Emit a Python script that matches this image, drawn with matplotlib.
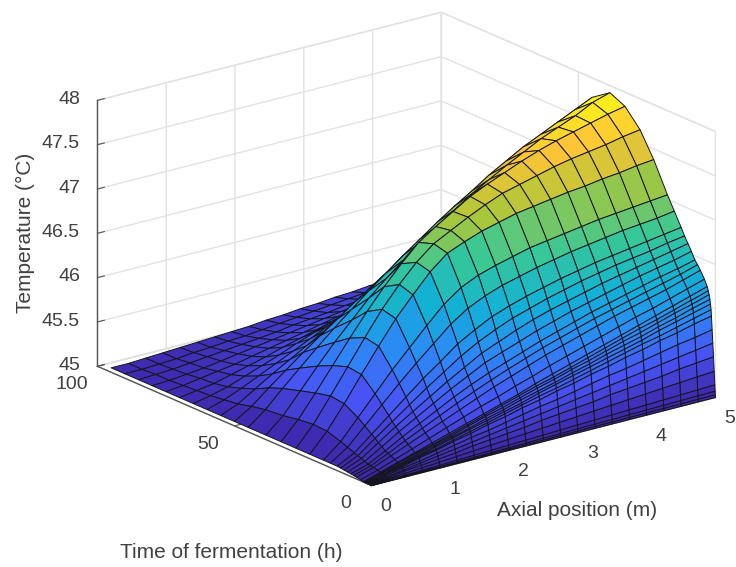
import numpy as np
import matplotlib
matplotlib.use("Agg")
import matplotlib.pyplot as plt
from matplotlib.colors import LinearSegmentedColormap

plt.rcParams["font.family"] = ["Liberation Sans", "DejaVu Sans"]
plt.rcParams["grid.color"] = "#e2e2e2"
plt.rcParams["grid.linewidth"] = 1.0

# ==============================
# Data
# ==============================
axial_position = [0, .25, .5, .75, 1, 1.25, 1.5, 1.75, 2, 2.25, 2.5, 2.75, 3, 3.25, 3.5, 3.75, 4, 4.25, 4.5, 4.75, 5]
fermentation_time = [0, .05, .1, .2, .45, .7, .95, 1.2, 1.45, 1.6, 1.8, 2, 2.3, 2.6, 3,
                     4, 5.5, 6.5, 7.5, 8.75, 10, 11.25, 12.5, 15, 17.5, 22.5, 27.5, 33, 38.5,
                     45, 50, 55, 60, 65, 70, 75, 80, 85, 90, 95]
base_temperature = 45

# temperature above 45 degC, one row per time, one column per position
temperature_rise = [
    [0, 0, 0, 0, 0, 0, 0, 0, 0, 0, 0, 0, 0, 0, 0, 0, 0, 0, 0, 0, 0],
    [0, .002, .003, .005, .006, .008, .009, .011, .012, .014, .015, .017, .018, .02, .021, .023, .024, .026, .027, .029, .03],
    [0, .004, .007, .011, .014, .018, .021, .025, .028, .032, .035, .039, .042, .046, .049, .053, .056, .06, .063, .067, .07],
    [0, .007, .014, .021, .028, .035, .042, .049, .056, .063, .07, .077, .084, .091, .098, .105, .112, .119, .126, .133, .14],
    [0, .015, .029, .044, .058, .073, .087, .102, .116, .131, .145, .16, .174, .189, .203, .218, .232, .247, .261, .276, .29],
    [0, .02, .05, .07, .09, .11, .14, .16, .18, .2, .23, .25, .27, .29, .32, .34, .36, .38, .41, .43, .45],
    [0, .03, .06, .09, .12, .15, .18, .21, .24, .27, .3, .33, .36, .39, .42, .45, .48, .51, .54, .57, .6],
    [0, .04, .08, .11, .15, .19, .23, .26, .3, .34, .38, .41, .45, .49, .53, .56, .6, .64, .68, .71, .75],
    [0, .05, .09, .14, .18, .23, .27, .32, .36, .41, .45, .5, .54, .59, .63, .68, .72, .77, .81, .86, .9],
    [0, .05, .1, .15, .19, .24, .29, .34, .39, .44, .49, .53, .58, .63, .68, .73, .78, .82, .87, .92, .97],
    [0, .05, .1, .15, .21, .26, .31, .36, .41, .46, .52, .57, .62, .67, .72, .77, .82, .88, .93, .98, 1.03],
    [0, .05, .11, .16, .22, .27, .32, .38, .43, .49, .54, .59, .65, .7, .76, .81, .86, .92, .97, 1.03, 1.08],
    [0, .06, .11, .17, .23, .28, .34, .4, .45, .51, .57, .62, .68, .73, .79, .85, .9, .96, 1.02, 1.07, 1.13],
    [0, .06, .12, .18, .23, .29, .35, .41, .47, .53, .59, .64, .7, .76, .82, .88, .94, .99, 1.05, 1.11, 1.17],
    [0, .06, .12, .18, .24, .3, .36, .42, .48, .54, .61, .67, .73, .79, .85, .91, .97, 1.03, 1.09, 1.15, 1.21],
    [.01, .07, .14, .21, .28, .35, .42, .49, .55, .62, .68, .75, .81, .87, .93, .99, 1.05, 1.1, 1.16, 1.22, 1.28],
    [.02, .08, .16, .24, .32, .4, .48, .56, .64, .71, .78, .85, .91, .97, 1.03, 1.09, 1.14, 1.19, 1.24, 1.3, 1.36],
    [.025, .085, .175, .27, .36, .45, .54, .625, .705, .78, .85, .92, .98, 1.04, 1.1, 1.15, 1.2, 1.25, 1.3, 1.35, 1.41],
    [.03, .09, .19, .3, .4, .5, .6, .69, .77, .84, .91, .98, 1.04, 1.1, 1.16, 1.21, 1.26, 1.31, 1.36, 1.4, 1.45],
    [.035, .105, .22, .34, .45, .56, .67, .77, .87, .94, 1.01, 1.08, 1.14, 1.2, 1.25, 1.3, 1.35, 1.4, 1.44, 1.48, 1.53],
    [.04, .12, .25, .38, .5, .62, .74, .85, .96, 1.04, 1.12, 1.19, 1.25, 1.3, 1.35, 1.4, 1.44, 1.48, 1.52, 1.56, 1.6],
    [.045, .135, .28, .42, .56, .7, .83, .96, 1.07, 1.16, 1.24, 1.3, 1.36, 1.41, 1.46, 1.5, 1.54, 1.57, 1.6, 1.64, 1.67],
    [.05, .15, .31, .47, .63, .79, .93, 1.08, 1.19, 1.29, 1.36, 1.42, 1.47, 1.52, 1.56, 1.6, 1.63, 1.66, 1.69, 1.72, 1.75],
    [.05, .18, .37, .56, .75, .93, 1.1, 1.27, 1.4, 1.49, 1.56, 1.61, 1.66, 1.7, 1.74, 1.77, 1.8, 1.83, 1.85, 1.87, 1.9],
    [.05, .21, .43, .65, .87, 1.07, 1.27, 1.46, 1.6, 1.69, 1.75, 1.8, 1.85, 1.88, 1.91, 1.94, 1.97, 1.99, 2.01, 2.03, 2.05],
    [.05, .26, .52, .8, 1.07, 1.33, 1.55, 1.76, 1.92, 2.0, 2.07, 2.12, 2.17, 2.2, 2.23, 2.26, 2.28, 2.31, 2.33, 2.36, 2.38],
    [.05, .27, .54, .82, 1.1, 1.37, 1.6, 1.8, 1.96, 2.06, 2.16, 2.25, 2.33, 2.38, 2.43, 2.48, 2.52, 2.55, 2.58, 2.62, 2.65],
    [.05, .25, .5, .76, 1.02, 1.27, 1.5, 1.71, 1.9, 2.03, 2.15, 2.27, 2.36, 2.44, 2.52, 2.59, 2.65, 2.7, 2.75, 2.8, 2.84],
    [.05, .22, .45, .68, .9, 1.1, 1.3, 1.47, 1.63, 1.78, 1.92, 2.05, 2.18, 2.29, 2.4, 2.5, 2.6, 2.68, 2.76, 2.86, 2.92],
    [.05, .2, .39, .57, .75, .92, 1.08, 1.24, 1.39, 1.54, 1.68, 1.82, 1.95, 2.07, 2.2, 2.31, 2.42, 2.51, 2.6, 2.69, 2.78],
    [.05, .17, .33, .48, .63, .77, .91, 1.05, 1.18, 1.31, 1.44, 1.56, 1.68, 1.8, 1.92, 2.03, 2.13, 2.22, 2.32, 2.41, 2.5],
    [.05, .13, .25, .37, .48, .59, .7, .81, .92, 1.03, 1.13, 1.24, 1.34, 1.44, 1.54, 1.64, 1.74, 1.83, 1.92, 2.01, 2.1],
    [.05, .11, .19, .28, .37, .46, .55, .64, .73, .81, .89, .97, 1.05, 1.14, 1.22, 1.31, 1.39, 1.47, 1.55, 1.62, 1.7],
    [.05, .09, .14, .21, .28, .35, .43, .5, .57, .63, .69, .76, .82, .89, .96, 1.02, 1.09, 1.16, 1.22, 1.29, 1.35],
    [.05, .08, .11, .16, .21, .26, .32, .37, .42, .47, .53, .58, .63, .68, .74, .79, .84, .89, .95, 1, 1.05],
    [.05, .07, .1, .13, .16, .2, .24, .28, .32, .36, .4, .44, .48, .52, .56, .6, .64, .68, .72, .76, .8],
    [.05, .06, .08, .1, .13, .16, .19, .22, .25, .28, .31, .34, .37, .4, .43, .47, .5, .53, .56, .59, .62],
    [.05, .06, .07, .09, .11, .13, .15, .17, .19, .22, .24, .26, .29, .31, .34, .36, .38, .41, .43, .46, .48],
    [.05, .05, .06, .07, .09, .1, .12, .13, .15, .17, .19, .21, .23, .25, .27, .29, .3, .32, .34, .36, .38],
    [.05, .05, .06, .07, .08, .09, .1, .11, .12, .14, .15, .17, .18, .2, .21, .23, .24, .26, .27, .29, .3],
]

x_ticks = [0, 1, 2, 3, 4, 5]
t_ticks = [0, 50, 100]
z_ticks = [45, 45.5, 46, 46.5, 47, 47.5, 48]
z_tick_labels = ["45", "45.5", "46", "46.5", "47", "47.5", "48"]

parula_colors = [(0.2422, 0.1504, 0.6603), (0.2810, 0.3228, 0.9579), (0.1786, 0.5289, 0.9682),
                 (0.0689, 0.6948, 0.8394), (0.2161, 0.7843, 0.5923), (0.6720, 0.7793, 0.2227),
                 (0.9970, 0.7659, 0.2199), (0.9769, 0.9839, 0.0805)]
parula = LinearSegmentedColormap.from_list("parula", parula_colors)

# ==============================
# Surface
# ==============================
X, T = np.meshgrid(axial_position, fermentation_time)
Z = base_temperature + np.array(temperature_rise)
colors = parula((Z - Z.min()) / (Z.max() - Z.min()))

fig = plt.figure(figsize=(7.36, 5.67), dpi=100)
ax = fig.add_axes([0.0418, 0.0475, 1, 1], projection="3d")
ax.set_proj_type("ortho")
ax.view_init(elev=19.5, azim=-127.5)
ax.set_box_aspect((441, 458, 287), zoom=1.174)

surf = ax.plot_surface(X, T, Z, facecolors=colors, rstride=1, cstride=1, shade=False,
                       edgecolor="#15151f", linewidth=0.7, antialiased=True)
surf.set_clip_on(False)

ax.set_xlim(0, 5)
ax.set_ylim(0, 100)
ax.set_zlim(45, 48)
ax.set_xticks(x_ticks)
ax.set_yticks(t_ticks)
ax.set_zticks(z_ticks)
ax.set_xticklabels(x_ticks, ha="left")
ax.set_yticklabels(t_ticks, va="bottom")
ax.set_zticklabels(z_tick_labels, ha="right", va="center")
ax.zaxis.set_ticks_position("upper")

for axis in (ax.xaxis, ax.yaxis, ax.zaxis):
    axis.set_pane_color((1, 1, 1, 1))
    axis.pane.set_edgecolor("#e2e2e2")
    axis.line.set_color("#555555")
    axis.line.set_linewidth(1.0)
    axis._axinfo["tick"]["inward_factor"] = 0.0
    axis._axinfo["tick"]["outward_factor"] = 0.25
    axis._axinfo["tick"]["color"] = "#555555"

ax.tick_params(labelsize=14, labelcolor="#404040", color="#555555")
ax.tick_params(axis="x", pad=-1)
ax.tick_params(axis="y", pad=8)
ax.tick_params(axis="z", pad=-2)

fig.text(25 / 736, 1 - 233 / 567, "Temperature (\u00b0C)", rotation=90, fontsize=15,
         color="#404040", ha="center", va="center")
fig.text(577 / 736, 1 - 510 / 567, "Axial position (m)", fontsize=15,
         color="#404040", ha="center", va="center")
fig.text(231 / 736, 1 - 553 / 567, "Time of fermentation (h)", fontsize=15,
         color="#404040", ha="center", va="center")

fig.savefig("out.png", dpi=100)
